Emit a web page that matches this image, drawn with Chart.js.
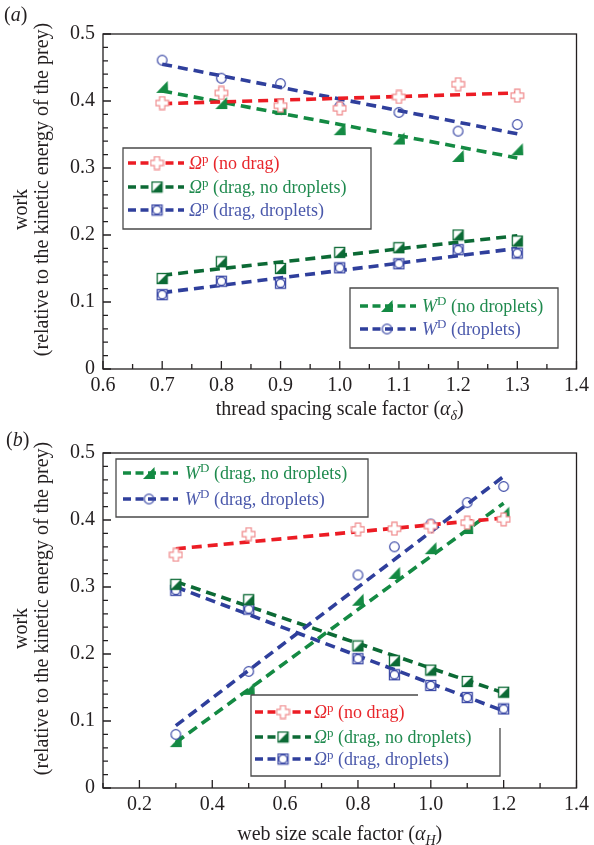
<!DOCTYPE html>
<html><head><meta charset="utf-8">
<script src="https://cdn.jsdelivr.net/npm/chart.js@4.4.0/dist/chart.umd.min.js"></script>
<style>
html,body{margin:0;padding:0;background:#fff;}
#wrap{position:relative;width:594px;height:845px;overflow:hidden;}
#ca{position:absolute;left:0;top:0;}
#cb{position:absolute;left:0;top:420px;}
</style></head><body>
<div id="wrap">
<canvas id="ca" width="594" height="420"></canvas>
<canvas id="cb" width="594" height="425"></canvas>
</div>
<script>
// ---------------- DATA: panel (a) ----------------
const aX = [0.7, 0.8, 0.9, 1.0, 1.1, 1.2, 1.3];
const aOmegaNoDrag      = [0.397, 0.412, 0.393, 0.389, 0.406, 0.425, 0.408];
const aOmegaDragNoDrop  = [0.135, 0.160, 0.150, 0.174, 0.181, 0.200, 0.191];
const aOmegaDragDrop    = [0.111, 0.131, 0.128, 0.151, 0.157, 0.178, 0.173];
const aWNoDrop          = [0.421, 0.397, 0.388, 0.358, 0.344, 0.318, 0.328];
const aWDrop            = [0.461, 0.434, 0.426, 0.392, 0.383, 0.355, 0.365];
// fitted lines (end points)
const aFitX = [0.7, 1.3];
const aFitOmegaNoDrag     = [0.396, 0.412];
const aFitOmegaDragNoDrop = [0.140, 0.199];
const aFitOmegaDragDrop   = [0.114, 0.180];
const aFitWNoDrop         = [0.415, 0.315];
const aFitWDrop           = [0.455, 0.351];
const aXTicks = [0.6, 0.7, 0.8, 0.9, 1.0, 1.1, 1.2, 1.3, 1.4];
const aXMinor = [0.65, 0.75, 0.85, 0.95, 1.05, 1.15, 1.25, 1.35];

// ---------------- DATA: panel (b) ----------------
const bX = [0.3, 0.5, 0.8, 0.9, 1.0, 1.1, 1.2];
const bOmegaNoDrag      = [0.348, 0.379, 0.386, 0.387, 0.391, 0.396, 0.401];
const bOmegaDragNoDrop  = [0.304, 0.281, 0.212, 0.190, 0.176, 0.159, 0.143];
const bOmegaDragDrop    = [0.295, 0.267, 0.193, 0.169, 0.153, 0.135, 0.118];
const bWNoDrop          = [0.070, 0.148, 0.281, 0.321, 0.358, 0.388, 0.411];
const bWDrop            = [0.080, 0.174, 0.318, 0.360, 0.394, 0.426, 0.450];
const bFitX = [0.3, 1.2];
const bFitOmegaNoDrag     = [0.357, 0.403];
const bFitOmegaDragNoDrop = [0.308, 0.142];
const bFitOmegaDragDrop   = [0.300, 0.115];
const bFitWNoDrop         = [0.068, 0.425];
const bFitWDrop           = [0.093, 0.465];
const bXTicks = [0.2, 0.4, 0.6, 0.8, 1.0, 1.2, 1.4];
const bXMinor = [0.1, 0.3, 0.5, 0.7, 0.9, 1.1, 1.3];

const yTicks = [0, 0.1, 0.2, 0.3, 0.4, 0.5];
const yMinor = [0.02,0.04,0.06,0.08,0.12,0.14,0.16,0.18,0.22,0.24,0.26,0.28,0.32,0.34,0.36,0.38,0.42,0.44,0.46,0.48];

// ---------------- styles ----------------
const SERIF = "'Liberation Serif','Times New Roman',serif";
const INK = '#231f20';
const C = {
  red: '#ec1c24', redMk: '#f08a8c', redTx: '#e8262b',
  gO: '#0c6a35', gW: '#148a43', gTx: '#1f8a4e',
  blue: '#2f3f9c', blueMk: '#3d4ba7', bTx: '#4a58ab'
};

function mk(size, fn){ const c=document.createElement('canvas'); c.width=size; c.height=size; const g=c.getContext('2d'); fn(g,size); return c; }
const mkCross = mk(15,(g,s)=>{ const c=s/2,a=2.6,h=6.3; g.beginPath();
  const p=[[c-a,c-h],[c+a,c-h],[c+a,c-a],[c+h,c-a],[c+h,c+a],[c+a,c+a],[c+a,c+h],[c-a,c+h],[c-a,c+a],[c-h,c+a],[c-h,c-a],[c-a,c-a]];
  p.forEach((q,i)=>i?g.lineTo(q[0],q[1]):g.moveTo(q[0],q[1])); g.closePath();
  g.fillStyle='#fff'; g.fill(); g.strokeStyle=C.redMk; g.lineWidth=1.2; g.stroke(); });
const mkHalfSq = mk(13,(g,s)=>{ const a=1.5,b=11.5; g.fillStyle='#fff'; g.fillRect(a,a,b-a,b-a);
  g.beginPath(); g.moveTo(a,b); g.lineTo(b,b); g.lineTo(b,a); g.closePath(); g.fillStyle=C.gO; g.fill();
  g.strokeStyle=C.gO; g.lineWidth=1.3; g.strokeRect(a,a,b-a,b-a); });
const mkSqCirc = mk(13,(g,s)=>{ const a=1.5,b=11.5; g.fillStyle='#fff'; g.fillRect(a,a,b-a,b-a);
  g.strokeStyle=C.blueMk; g.lineWidth=1.3; g.strokeRect(a,a,b-a,b-a);
  g.beginPath(); g.arc(s/2,s/2,4.2,0,Math.PI*2); g.stroke(); });
const mkTri = mk(14,(g,s)=>{ g.beginPath(); g.moveTo(1,13); g.lineTo(13,13); g.lineTo(12.5,1); g.closePath();
  g.fillStyle=C.gW; g.fill(); });
const mkCirc = mk(13,(g,s)=>{ g.beginPath(); g.arc(s/2,s/2,4.8,0,Math.PI*2); g.strokeStyle=C.blueMk; g.lineWidth=1.2; g.stroke(); });

function pts(xs, ys){ return xs.map((x,i)=>({x:x,y:ys[i]})); }
function lineDs(xs, ys, color){ return {data:pts(xs,ys), showLine:true, borderColor:color, borderWidth:3.6, borderDash:[10,6], pointRadius:0, fill:false, order:2}; }
function mkDs(xs, ys, img){ return {data:pts(xs,ys), showLine:false, pointStyle:img, pointRadius:6, order:1}; }

// rich text: segments [{t, size, italic, dy}]
function richWidth(ctx, segs){ let w=0; segs.forEach(s=>{ ctx.font=(s.italic?'italic ':'')+s.size+'px '+SERIF; w+=ctx.measureText(s.t).width; }); return w; }
function drawRich(ctx, segs, x, y, color, align){
  let w = richWidth(ctx, segs); let cx = align==='center' ? x - w/2 : x;
  ctx.fillStyle=color; ctx.textBaseline='alphabetic'; ctx.textAlign='left';
  segs.forEach(s=>{ ctx.font=(s.italic?'italic ':'')+s.size+'px '+SERIF; ctx.fillText(s.t, cx, y+(s.dy||0)); cx+=ctx.measureText(s.t).width; });
}
function omegaSegs(txt){ return [{t:'Ω',size:18,italic:true},{t:'p',size:13,dy:-6},{t:' '+txt,size:18}]; }
function wSegs(txt){ return [{t:'W',size:18,italic:true},{t:'D',size:13,dy:-7},{t:' '+txt,size:18}]; }

const deco = {
  id:'deco',
  beforeDatasetsDraw(chart, args, o){
    const {ctx, chartArea:{left,right,top,bottom}, scales:{x,y}} = chart;
    ctx.save(); ctx.strokeStyle=INK; ctx.lineWidth=1.3;
    ctx.strokeRect(left, top, right-left, bottom-top);
    ctx.beginPath();
    o.xMajor.forEach(v=>{ const p=x.getPixelForValue(v); ctx.moveTo(p,bottom); ctx.lineTo(p,bottom-8); });
    o.xMinor.forEach(v=>{ const p=x.getPixelForValue(v); ctx.moveTo(p,bottom); ctx.lineTo(p,bottom-5); });
    yTicks.forEach(v=>{ const p=y.getPixelForValue(v); ctx.moveTo(left,p); ctx.lineTo(left+8,p); });
    yMinor.forEach(v=>{ const p=y.getPixelForValue(v); ctx.moveTo(left,p); ctx.lineTo(left+5,p); });
    ctx.stroke(); ctx.restore();
  },
  afterDatasetsDraw(chart, args, o){
    const {ctx, chartArea:{left,right,top,bottom}} = chart;
    ctx.save();
    // panel label
    drawRich(ctx, [{t:'(',size:20},{t:o.tag,size:20,italic:true},{t:')',size:20}], o.tagX, o.tagY, INK, 'left');
    // x title
    drawRich(ctx, o.xTitle, (left+right)/2, o.xTitleY, INK, 'center');
    // y title
    const cy=(top+bottom)/2;
    ctx.fillStyle=INK; ctx.font='20px '+SERIF; ctx.textAlign='center'; ctx.textBaseline='middle';
    ctx.save(); ctx.translate(22, cy+8); ctx.rotate(-Math.PI/2); ctx.fillText('work',0,0); ctx.restore();
    ctx.save(); ctx.translate(43, cy-12); ctx.rotate(-Math.PI/2); ctx.fillText('(relative to the kinetic energy of the prey)',0,0); ctx.restore();
    // legends
    o.legends.forEach(L=>{
      ctx.strokeStyle='#4a4a4a'; ctx.lineWidth=1.3;
      ctx.beginPath();
      if (L.partial){
        ctx.moveTo(L.box[0], L.box[1]); ctx.lineTo(L.partial.topEnd, L.box[1]);
        ctx.moveTo(L.box[0], L.box[1]); ctx.lineTo(L.box[0], L.box[3]); ctx.lineTo(L.box[2], L.box[3]); ctx.lineTo(L.box[2], L.partial.rightStart);
      } else {
        ctx.rect(L.box[0], L.box[1], L.box[2]-L.box[0], L.box[3]-L.box[1]);
      }
      ctx.stroke();
      L.rows.forEach(r=>{
        ctx.save(); ctx.strokeStyle=r.line; ctx.lineWidth=3.6; ctx.setLineDash([8,4.5]);
        ctx.beginPath(); ctx.moveTo(L.x0, r.y); ctx.lineTo(L.x1, r.y); ctx.stroke(); ctx.restore();
        ctx.drawImage(r.mk, L.xm - r.mk.width/2, r.y - r.mk.height/2);
        drawRich(ctx, r.segs, L.xt, r.y+6, r.color, 'left');
      });
    });
    ctx.restore();
  }
};

function fmtY(v){ return Math.abs(v)<1e-9 ? '0' : v.toFixed(1); }
function makeChart(id, xmin, xmax, xTicks, xScaleH, topPad, datasets, decoOpts){
  return new Chart(document.getElementById(id), {
    type:'scatter',
    data:{datasets:datasets},
    plugins:[deco],
    options:{
      responsive:false, animation:false, devicePixelRatio:1,
      layout:{padding:{top:topPad, right:16, left:0, bottom:0}},
      plugins:{legend:{display:false}, tooltip:{enabled:false}, deco:decoOpts},
      scales:{
        x:{type:'linear', min:xmin, max:xmax,
           afterBuildTicks:s=>{ s.ticks = xTicks.map(v=>({value:v})); },
           afterFit:s=>{ s.height = xScaleH; },
           grid:{display:false, drawTicks:false}, border:{display:false},
           ticks:{font:{family:SERIF,size:20}, color:INK, padding:5, maxRotation:0, autoSkip:false, callback:v=>Number(v).toFixed(1)}},
        y:{type:'linear', min:0, max:0.5,
           afterBuildTicks:s=>{ s.ticks = yTicks.map(v=>({value:v})); },
           afterFit:s=>{ s.width = 103; },
           grid:{display:false, drawTicks:false}, border:{display:false},
           ticks:{font:{family:SERIF,size:20}, color:INK, padding:8, callback:v=>fmtY(v)}}
      }
    }
  });
}

makeChart('ca', 0.6, 1.4, aXTicks, 51, 34, [
  lineDs(aFitX, aFitOmegaNoDrag, C.red),
  lineDs(aFitX, aFitWDrop, C.blue),
  lineDs(aFitX, aFitWNoDrop, C.gW),
  lineDs(aFitX, aFitOmegaDragNoDrop, C.gO),
  lineDs(aFitX, aFitOmegaDragDrop, C.blue),
  mkDs(aX, aOmegaNoDrag, mkCross),
  mkDs(aX, aWDrop, mkCirc),
  mkDs(aX, aWNoDrop, mkTri),
  mkDs(aX, aOmegaDragNoDrop, mkHalfSq),
  mkDs(aX, aOmegaDragDrop, mkSqCirc)
], {
  xMajor:aXTicks, xMinor:aXMinor, tag:'a', tagX:4, tagY:21, xTitleY:415,
  xTitle:[{t:'thread spacing scale factor (',size:20},{t:'α',size:20,italic:true},{t:'δ',size:14,italic:true,dy:5},{t:')',size:20}],
  legends:[
    {box:[123,148,371,229], x0:128, x1:184, xm:157, xt:189, rows:[
      {y:163, line:C.red, mk:mkCross, color:C.redTx, segs:omegaSegs('(no drag)')},
      {y:187, line:C.gO, mk:mkHalfSq, color:C.gTx, segs:omegaSegs('(drag, no droplets)')},
      {y:210, line:C.blue, mk:mkSqCirc, color:C.bTx, segs:omegaSegs('(drag, droplets)')} ]},
    {box:[350,288,558,348], x0:360, x1:416, xm:387, xt:422, rows:[
      {y:306, line:C.gW, mk:mkTri, color:C.gTx, segs:wSegs('(no droplets)')},
      {y:329, line:C.blue, mk:mkCirc, color:C.bTx, segs:wSegs('(droplets)')} ]}
  ]
});

makeChart('cb', 0.1, 1.4, bXTicks, 57, 33, [
  lineDs(bFitX, bFitOmegaNoDrag, C.red),
  lineDs(bFitX, bFitWDrop, C.blue),
  lineDs(bFitX, bFitWNoDrop, C.gW),
  lineDs(bFitX, bFitOmegaDragNoDrop, C.gO),
  lineDs(bFitX, bFitOmegaDragDrop, C.blue),
  mkDs(bX, bOmegaNoDrag, mkCross),
  mkDs(bX, bWDrop, mkCirc),
  mkDs(bX, bWNoDrop, mkTri),
  mkDs(bX, bOmegaDragNoDrop, mkHalfSq),
  mkDs(bX, bOmegaDragDrop, mkSqCirc)
], {
  xMajor:bXTicks, xMinor:bXMinor, tag:'b', tagX:6, tagY:26, xTitleY:420,
  xTitle:[{t:'web size scale factor (',size:20},{t:'α',size:20,italic:true},{t:'H',size:14,italic:true,dy:5},{t:')',size:20}],
  legends:[
    {box:[116,39,368,97], x0:123, x1:178, xm:149, xt:185, rows:[
      {y:53, line:C.gW, mk:mkTri, color:C.gTx, segs:wSegs('(drag, no droplets)')},
      {y:79, line:C.blue, mk:mkCirc, color:C.bTx, segs:wSegs('(drag, droplets)')} ]},
    {box:[251,275,500,356], partial:{topEnd:418, rightStart:308}, x0:255, x1:311, xm:283, xt:314, rows:[
      {y:292, line:C.red, mk:mkCross, color:C.redTx, segs:omegaSegs('(no drag)')},
      {y:317, line:C.gO, mk:mkHalfSq, color:C.gTx, segs:omegaSegs('(drag, no droplets)')},
      {y:339, line:C.blue, mk:mkSqCirc, color:C.bTx, segs:omegaSegs('(drag, droplets)')} ]}
  ]
});
</script>
</body></html>
